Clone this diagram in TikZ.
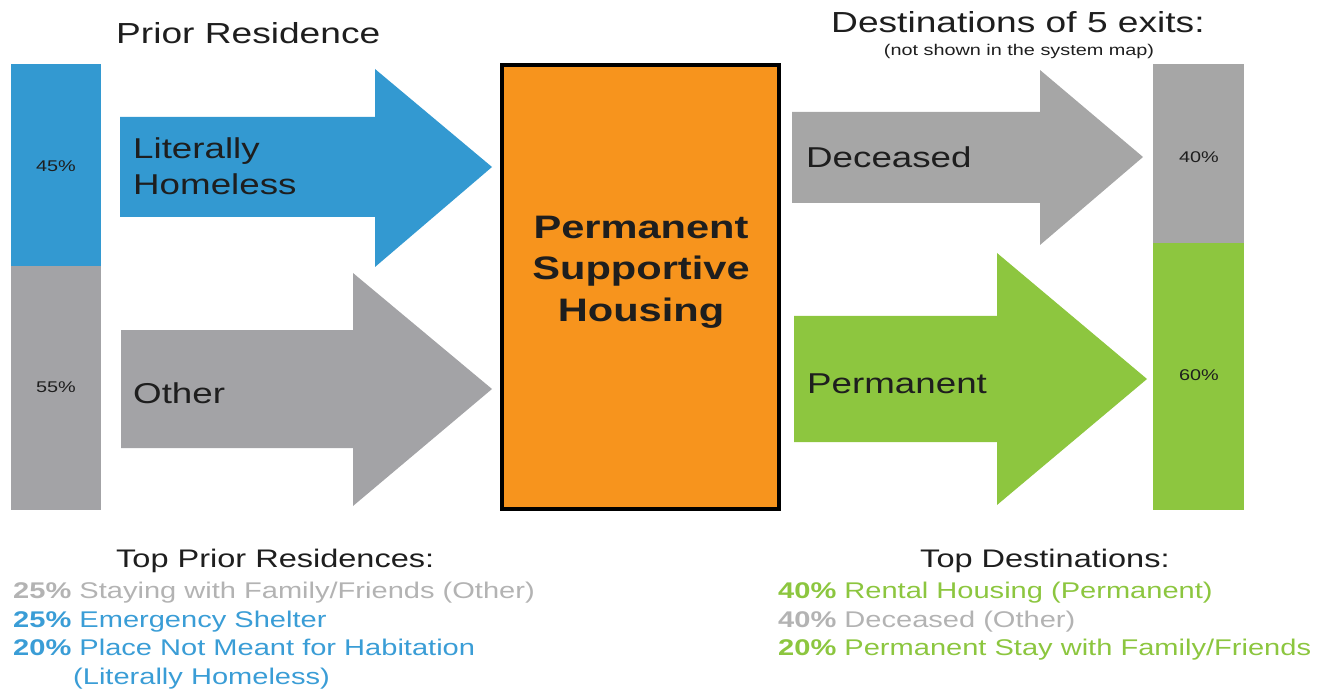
\documentclass[tikz,border=0pt]{standalone}
\usepackage{fontspec}
\setmainfont{Liberation Sans}[FakeStretch=1.28]
\definecolor{cblue}{HTML}{3399D1}
\definecolor{cgrey}{HTML}{A3A3A6}
\definecolor{cgreyb}{HTML}{A6A6A6}
\definecolor{corange}{HTML}{F7941D}
\definecolor{cgreen}{HTML}{8DC63F}
\definecolor{tgrey}{HTML}{B3B3B3}
\definecolor{tblue}{HTML}{3A9DD6}
\definecolor{tgreen}{HTML}{8CC63F}
\definecolor{tdark}{HTML}{1E1E1E}
\tikzset{
  txt/.style={inner sep=0pt, anchor=base west, text=tdark},
  title/.style={txt, font=\fontsize{29}{34}\selectfont},
  albl/.style={txt, font=\fontsize{28.7}{34}\selectfont},
  pct/.style={inner sep=0pt, text=tdark, font=\fontsize{15.5}{18}\selectfont},
  btitle/.style={txt, font=\fontsize{25.4}{30}\selectfont},
  bline/.style={inner sep=0pt, anchor=base west, font=\fontsize{22.7}{27}\selectfont},
  core/.style={inner sep=0pt, anchor=base, text=tdark, font=\fontsize{32.5}{38}\selectfont\bfseries},
}
\begin{document}
\begin{tikzpicture}[x=1pt,y=-1pt]
\useasboundingbox (0,0) rectangle (1324,692);

% left bar
\fill[cblue] (11,64) rectangle (101,266);
\fill[cgrey] (11,266) rectangle (101,510);
\node[pct] (p45) at (56,166) {45\%};
\node[pct] (p55) at (56,387) {55\%};

% right bar
\fill[cgreyb] (1153,64) rectangle (1244,243);
\fill[cgreen] (1153,243) rectangle (1244,510);
\node[pct] (p40) at (1199,157) {40\%};
\node[pct] (p60) at (1199,375) {60\%};

% arrows
\fill[cblue] (120,117) -- (375,117) -- (375,69) -- (492,167) -- (375,267) -- (375,217) -- (120,217) -- cycle;
\fill[cgrey] (121,330) -- (353,330) -- (353,273) -- (492,389) -- (353,506) -- (353,448) -- (121,448) -- cycle;
\fill[cgreyb] (792,112) -- (1040,112) -- (1040,70) -- (1143,157) -- (1040,245) -- (1040,203) -- (792,203) -- cycle;
\fill[cgreen] (794,316) -- (997,316) -- (997,253) -- (1147,379) -- (997,505) -- (997,442) -- (794,442) -- cycle;

\node[albl] (lh1) at (133,159) {Literally};
\node[albl] (lh2) at (133,195) {Homeless};
\node[albl] (oth) at (133,403) {Other};
\node[albl] (dec) at (806,168) {Deceased};
\node[albl] (perm) at (807,393) {Permanent};

% central box
\draw[line width=3.5pt, fill=corange] (502,65) rectangle (779,509);
\node[core] (c1) at (641,239) {Permanent};
\node[core] (c2) at (641,280) {Supportive};
\node[core] (c3) at (641,322) {Housing};

% titles
\node[title] (t1) at (116,44) {Prior Residence};
\node[title] (t2) at (831,33) {Destinations of 5 exits:};
\node[inner sep=0pt, anchor=base, text=tdark, font=\fontsize{15.5}{18}\selectfont] (t3) at (1019,56) {(not shown in the system map)};

% bottom left
\node[btitle] (b1) at (116,567) {Top Prior Residences:};
\node[bline, text=tgrey] (b2) at (13,598) {\textbf{25\%} Staying with Family/Friends (Other)};
\node[bline, text=tblue] (b3) at (13,627) {\textbf{25\%} Emergency Shelter};
\node[bline, text=tblue] (b4) at (13,655) {\textbf{20\%} Place Not Meant for Habitation};
\node[bline, text=tblue] (b5) at (73,684) {(Literally Homeless)};

% bottom right
\node[btitle] (r1) at (920,567) {Top Destinations:};
\node[bline, text=tgreen] (r2) at (778,598) {\textbf{40\%} Rental Housing (Permanent)};
\node[bline, text=tgrey] (r3) at (778,627) {\textbf{40\%} Deceased (Other)};
\node[bline, text=tgreen] (r4) at (778,655) {\textbf{20\%} Permanent Stay with Family/Friends};
\end{tikzpicture}
\end{document}
